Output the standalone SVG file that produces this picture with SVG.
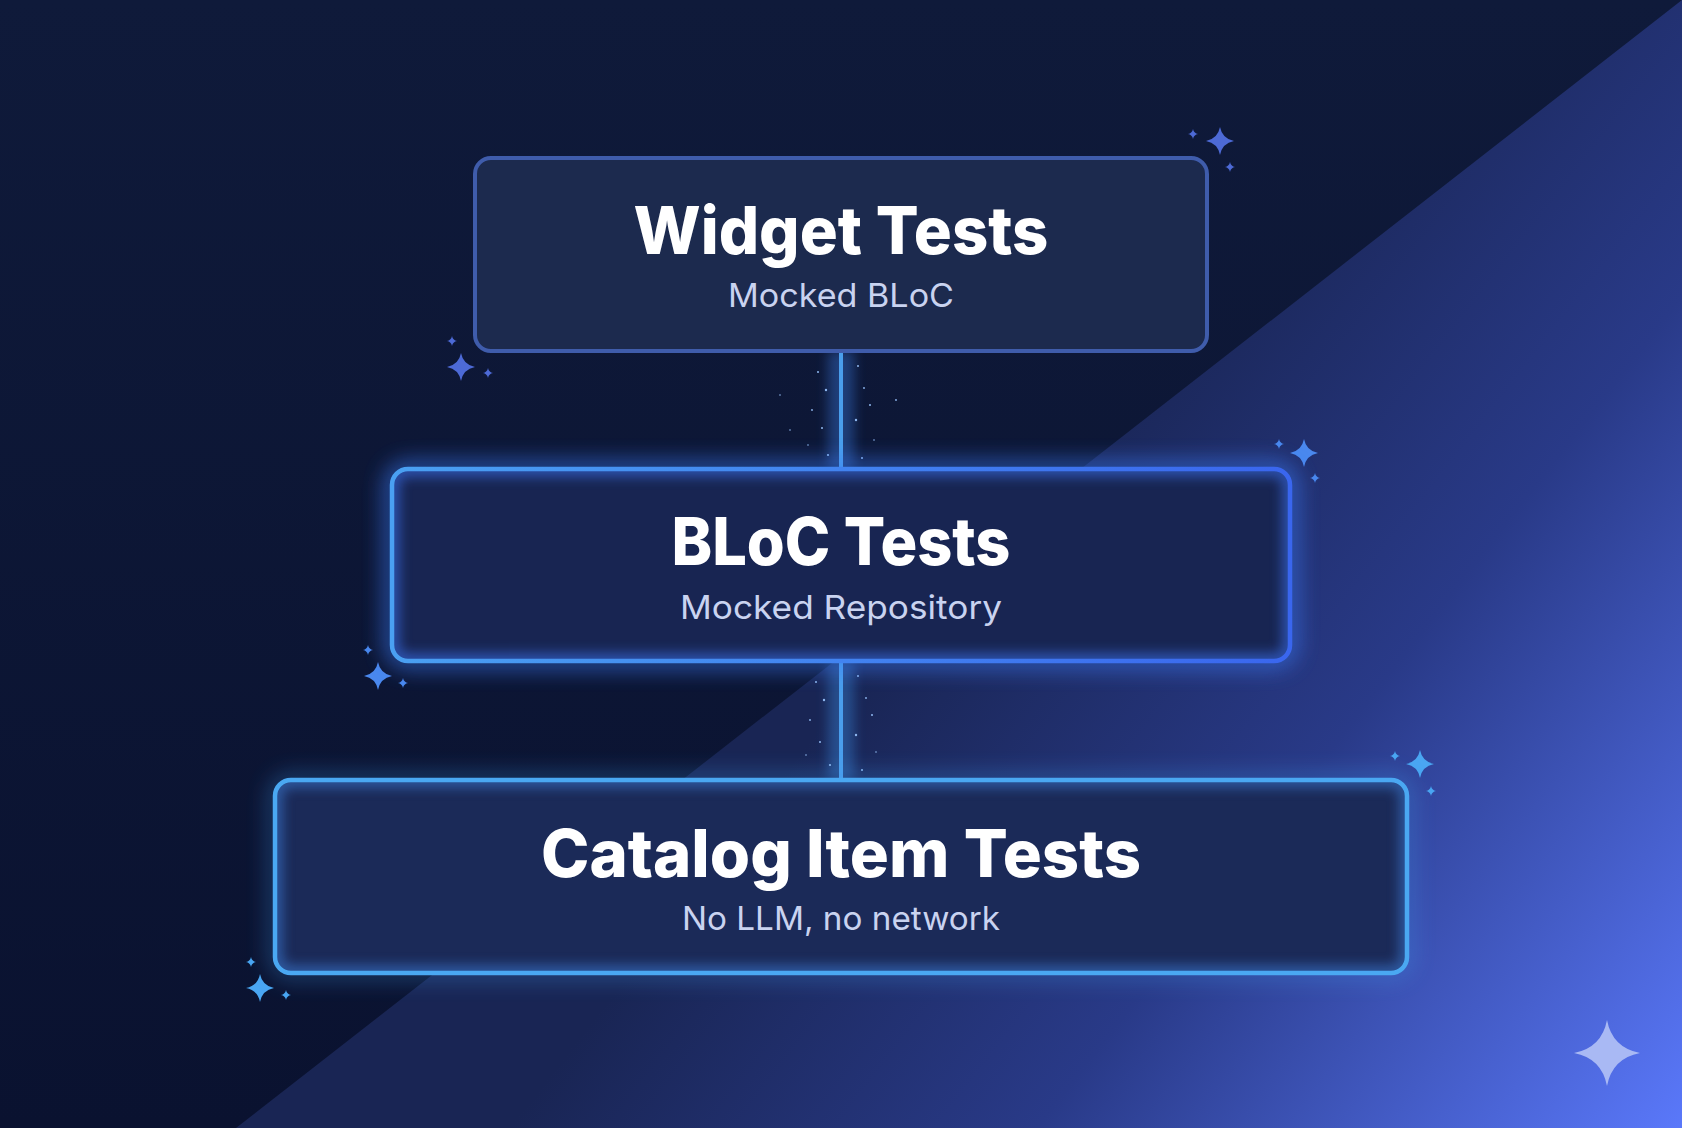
<svg xmlns="http://www.w3.org/2000/svg" width="1682" height="1128" viewBox="0 0 1682 1128">
  <defs>
    <linearGradient id="bgLeft" x1="0" y1="0" x2="0" y2="1">
      <stop offset="0" stop-color="#0f1a3a"/>
      <stop offset="1" stop-color="#0a1230"/>
    </linearGradient>
    <linearGradient id="bgRight" gradientUnits="userSpaceOnUse" x1="950" y1="560" x2="1682" y2="1128">
      <stop offset="0" stop-color="#192554"/>
      <stop offset="0.45" stop-color="#293a88"/>
      <stop offset="1" stop-color="#5a78fa"/>
    </linearGradient>
    <linearGradient id="blocStroke" x1="0" y1="0" x2="1" y2="0">
      <stop offset="0" stop-color="#4aa0f2"/>
      <stop offset="1" stop-color="#3a66ee"/>
    </linearGradient>
    <filter id="glowBig" x="-20%" y="-40%" width="140%" height="180%">
      <feGaussianBlur stdDeviation="11"/>
    </filter>
    <filter id="glowSmall" x="-20%" y="-40%" width="140%" height="180%">
      <feGaussianBlur stdDeviation="6"/>
    </filter>
    <filter id="lineGlow" x="-400%" y="-10%" width="900%" height="120%">
      <feGaussianBlur stdDeviation="6"/>
    </filter>
    <clipPath id="clipBloc"><rect x="392" y="469" width="898" height="192" rx="16"/></clipPath>
    <clipPath id="clipCat"><rect x="275" y="780" width="1132" height="193" rx="16"/></clipPath>
    <path id="star" d="M0,-10 Q1.6,-1.6 10,0 Q1.6,1.6 0,10 Q-1.6,1.6 -10,0 Q-1.6,-1.6 0,-10 Z"/>
    <style>
      .title { font-family: Inter, "Liberation Sans", sans-serif; font-weight: 800; font-size: 66px; fill: #ffffff; text-anchor: middle; }
      .sub { font-family: Inter, "Liberation Sans", sans-serif; font-weight: 400; font-size: 33px; fill: #c9d3f0; text-anchor: middle; }
      .dot { fill: #8fb8f0; }
      .conn { stroke: #4a9eec; stroke-width: 4; }
    </style>
  </defs>

  <!-- background -->
  <rect x="0" y="0" width="1682" height="1128" fill="url(#bgLeft)"/>
  <polygon points="236,1128 1682,0 1682,1128" fill="url(#bgRight)"/>

  <!-- sparkles -->
  <g id="sparkles">
    <g fill="#4d6ad6">
      <use href="#star" transform="translate(1220,141) scale(1.4)"/>
      <use href="#star" transform="translate(1193,134) scale(0.5)"/>
      <use href="#star" transform="translate(1230,167) scale(0.5)"/>
      <use href="#star" transform="translate(461,367) scale(1.4)"/>
      <use href="#star" transform="translate(452,341) scale(0.5)"/>
      <use href="#star" transform="translate(488,373) scale(0.5)"/>
    </g>
    <g fill="#4a88ee">
      <use href="#star" transform="translate(1304,453) scale(1.4)"/>
      <use href="#star" transform="translate(1279,444) scale(0.5)"/>
      <use href="#star" transform="translate(1315,478) scale(0.5)"/>
      <use href="#star" transform="translate(378,676) scale(1.4)"/>
      <use href="#star" transform="translate(368,650) scale(0.5)"/>
      <use href="#star" transform="translate(403,683) scale(0.5)"/>
    </g>
    <g fill="#4aa6f2">
      <use href="#star" transform="translate(1420,764) scale(1.4)"/>
      <use href="#star" transform="translate(1395,756) scale(0.5)"/>
      <use href="#star" transform="translate(1431,791) scale(0.5)"/>
      <use href="#star" transform="translate(260,988) scale(1.4)"/>
      <use href="#star" transform="translate(251,962) scale(0.5)"/>
      <use href="#star" transform="translate(286,995) scale(0.5)"/>
    </g>
    <use href="#star" fill="#a9b9f4" transform="translate(1607,1053) scale(3.3)"/>
  </g>

  <!-- connectors -->
  <g id="connectors">
    <rect x="828" y="351" width="26" height="118" fill="#3a7ae0" opacity="0.4" filter="url(#lineGlow)"/>
    <rect x="828" y="661" width="26" height="119" fill="#3a8ae0" opacity="0.4" filter="url(#lineGlow)"/>
    <line class="conn" x1="841" y1="351" x2="841" y2="469"/>
    <line class="conn" x1="841" y1="661" x2="841" y2="780"/>
    <g class="dot">
      <circle cx="818" cy="372" r="1"/><circle cx="826" cy="390" r="1.2"/><circle cx="812" cy="410" r="0.9"/>
      <circle cx="822" cy="428" r="1"/><circle cx="808" cy="445" r="0.8"/><circle cx="828" cy="455" r="1.1"/>
      <circle cx="858" cy="366" r="1"/><circle cx="864" cy="388" r="0.9"/><circle cx="870" cy="405" r="1"/>
      <circle cx="856" cy="420" r="1.2"/><circle cx="874" cy="440" r="0.8"/><circle cx="862" cy="458" r="1"/>
      <circle cx="896" cy="400" r="0.9"/><circle cx="780" cy="395" r="0.8"/><circle cx="790" cy="430" r="0.8"/>
      <circle cx="816" cy="682" r="1"/><circle cx="824" cy="700" r="1.2"/><circle cx="810" cy="720" r="0.9"/>
      <circle cx="820" cy="742" r="1"/><circle cx="830" cy="765" r="1.1"/><circle cx="806" cy="755" r="0.8"/>
      <circle cx="858" cy="676" r="1"/><circle cx="866" cy="698" r="0.9"/><circle cx="872" cy="715" r="1"/>
      <circle cx="856" cy="735" r="1.2"/><circle cx="876" cy="752" r="0.8"/><circle cx="862" cy="770" r="1"/>
    </g>
  </g>

  <!-- Widget Tests node -->
  <g id="node-widget">
    <rect x="475" y="158" width="732" height="193" rx="16" fill="#1c2a4e" stroke="#3f5cab" stroke-width="4"/>
    <text class="title" x="841" y="254" textLength="415" lengthAdjust="spacingAndGlyphs">Widget Tests</text>
    <text class="sub" x="841" y="307" textLength="226" lengthAdjust="spacingAndGlyphs">Mocked BLoC</text>
  </g>

  <!-- BLoC Tests node -->
  <g id="node-bloc">
    <rect x="392" y="469" width="898" height="192" rx="16" fill="none" stroke="#3a7af5" stroke-width="12" opacity="0.85" filter="url(#glowBig)"/>
    <rect x="392" y="469" width="898" height="192" rx="16" fill="#182552"/>
    <g clip-path="url(#clipBloc)">
      <rect x="392" y="469" width="898" height="192" rx="16" fill="none" stroke="#3a6ee8" stroke-width="16" opacity="0.6" filter="url(#glowSmall)"/>
    </g>
    <rect x="392" y="469" width="898" height="192" rx="16" fill="none" stroke="url(#blocStroke)" stroke-width="4.5"/>
    <text class="title" x="841" y="565" textLength="339" lengthAdjust="spacingAndGlyphs">BLoC Tests</text>
    <text class="sub" x="841" y="619" textLength="322" lengthAdjust="spacingAndGlyphs">Mocked Repository</text>
  </g>

  <!-- Catalog Item Tests node -->
  <g id="node-catalog">
    <rect x="275" y="780" width="1132" height="193" rx="16" fill="none" stroke="#3f9cf0" stroke-width="8" opacity="0.6" filter="url(#glowBig)"/>
    <rect x="275" y="780" width="1132" height="193" rx="16" fill="#1b2a58"/>
    <g clip-path="url(#clipCat)">
      <rect x="275" y="780" width="1132" height="193" rx="16" fill="none" stroke="#3c7ed8" stroke-width="16" opacity="0.55" filter="url(#glowSmall)"/>
    </g>
    <rect x="275" y="780" width="1132" height="193" rx="16" fill="none" stroke="#4aa8f2" stroke-width="4.5"/>
    <text class="title" x="841" y="877" textLength="600" lengthAdjust="spacingAndGlyphs">Catalog Item Tests</text>
    <text class="sub" x="841" y="930" textLength="318" lengthAdjust="spacingAndGlyphs">No LLM, no network</text>
  </g>
</svg>
